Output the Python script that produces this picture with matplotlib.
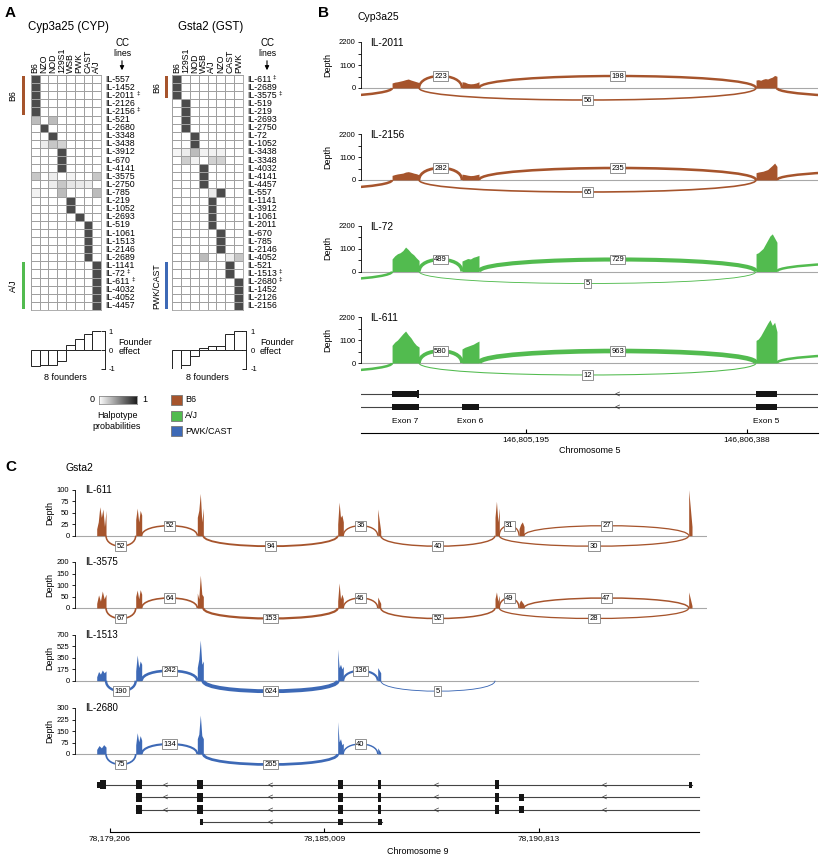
import numpy as np
import matplotlib
matplotlib.use('Agg')
import matplotlib.pyplot as plt
from matplotlib.path import Path
from matplotlib.patches import PathPatch, Rectangle
from matplotlib.colors import LinearSegmentedColormap
import matplotlib.ticker as mticker

plt.rcParams['font.family'] = ['Liberation Sans', 'DejaVu Sans']

# ======================= DATA =======================
# ---- Panel A : haplotype probabilities ----
cyp_founders = ['B6', 'NZO', 'NOD', '129S1', 'WSB', 'PWK', 'CAST', 'A/J']
cyp_lines = ['IL-557', 'IL-1452', 'IL-2011', 'IL-2126', 'IL-2156', 'IL-521', 'IL-2680',
             'IL-3348', 'IL-3438', 'IL-3912', 'IL-670', 'IL-4141', 'IL-3575', 'IL-2750',
             'IL-785', 'IL-219', 'IL-1052', 'IL-2693', 'IL-519', 'IL-1061', 'IL-1513',
             'IL-2146', 'IL-2689', 'IL-1141', 'IL-72', 'IL-611', 'IL-4032', 'IL-4052', 'IL-4457']
cyp_probs = [
    [.8, 0, 0, 0, 0, 0, 0, 0],
    [.8, 0, 0, 0, 0, 0, 0, 0],
    [.8, 0, 0, 0, 0, 0, 0, 0],
    [.8, 0, 0, 0, 0, 0, 0, 0],
    [.8, 0, 0, 0, 0, 0, 0, 0],
    [.3, 0, .3, 0, 0, 0, 0, 0],
    [0, .8, 0, 0, 0, 0, 0, 0],
    [0, 0, .8, 0, 0, 0, 0, 0],
    [0, .08, .25, .2, 0, 0, 0, 0],
    [0, 0, 0, .8, 0, 0, 0, 0],
    [0, 0, 0, .8, 0, 0, 0, 0],
    [0, 0, 0, .8, 0, 0, 0, 0],
    [.25, 0, .08, 0, .05, 0, 0, .25],
    [0, 0, .08, .25, .12, .1, .08, 0],
    [.06, 0, 0, .3, 0, 0, 0, .3],
    [0, 0, 0, 0, .8, 0, 0, 0],
    [0, 0, 0, 0, .8, 0, 0, 0],
    [0, 0, 0, 0, 0, .8, 0, 0],
    [0, 0, 0, 0, 0, 0, .8, 0],
    [0, 0, 0, 0, 0, 0, .8, 0],
    [0, 0, 0, 0, 0, 0, .8, 0],
    [0, 0, 0, 0, 0, 0, .8, 0],
    [0, 0, 0, 0, 0, 0, .8, 0],
    [0, 0, 0, 0, 0, 0, 0, .8],
    [0, 0, 0, 0, 0, 0, 0, .8],
    [0, 0, 0, 0, 0, 0, 0, .8],
    [0, 0, 0, 0, 0, 0, 0, .8],
    [0, 0, 0, 0, 0, 0, 0, .8],
    [0, 0, 0, 0, 0, 0, 0, .8],
]
cyp_dagger = ['IL-2011', 'IL-2156', 'IL-72', 'IL-611']
cyp_groups = [('B6', 'IL-557', 'IL-2156'), ('A/J', 'IL-1141', 'IL-4457')]
cyp_effect = [-0.82, -0.77, -0.77, -0.6, 0.3, 0.6, 0.88, 1.0]

gst_founders = ['B6', '129S1', 'NOD', 'WSB', 'A/J', 'NZO', 'CAST', 'PWK']
gst_lines = ['IL-611', 'IL-2689', 'IL-3575', 'IL-519', 'IL-219', 'IL-2693', 'IL-2750',
             'IL-72', 'IL-1052', 'IL-3438', 'IL-3348', 'IL-4032', 'IL-4141', 'IL-4457',
             'IL-557', 'IL-1141', 'IL-3912', 'IL-1061', 'IL-2011', 'IL-670', 'IL-785',
             'IL-2146', 'IL-4052', 'IL-521', 'IL-1513', 'IL-2680', 'IL-1452', 'IL-2126', 'IL-2156']
gst_probs = [
    [.8, 0, 0, 0, 0, 0, 0, 0],
    [.8, 0, 0, 0, 0, 0, 0, 0],
    [.8, 0, 0, 0, 0, 0, 0, 0],
    [0, .8, 0, 0, 0, 0, 0, 0],
    [0, .8, 0, 0, 0, 0, 0, 0],
    [0, .8, 0, 0, 0, 0, 0, 0],
    [0, .8, 0, 0, 0, 0, 0, 0],
    [0, 0, .8, 0, 0, 0, 0, 0],
    [0, 0, .8, 0, 0, 0, 0, 0],
    [.04, .08, .3, .06, .06, .06, 0, 0],
    [0, .22, .06, 0, .2, .2, 0, 0],
    [0, 0, 0, .8, 0, 0, 0, 0],
    [0, 0, 0, .8, 0, 0, 0, 0],
    [0, 0, 0, .8, 0, 0, 0, 0],
    [0, 0, 0, 0, .1, .8, 0, 0],
    [0, 0, 0, 0, .8, 0, 0, 0],
    [0, 0, 0, 0, .8, 0, 0, 0],
    [0, 0, 0, 0, .8, 0, 0, 0],
    [0, 0, 0, 0, .8, 0, 0, 0],
    [0, 0, 0, 0, 0, .8, 0, 0],
    [0, 0, 0, 0, 0, .8, 0, 0],
    [0, 0, 0, 0, 0, .8, 0, 0],
    [0, 0, 0, .3, 0, 0, .08, .25],
    [0, 0, 0, 0, 0, 0, .8, 0],
    [0, 0, 0, 0, 0, 0, .8, 0],
    [0, 0, 0, 0, 0, 0, 0, .8],
    [0, 0, 0, 0, 0, 0, 0, .8],
    [0, 0, 0, 0, 0, 0, 0, .8],
    [0, 0, 0, 0, 0, 0, 0, .8],
]
gst_dagger = ['IL-611', 'IL-3575', 'IL-1513', 'IL-2680']
gst_groups = [('B6', 'IL-611', 'IL-3575'), ('PWK/CAST', 'IL-521', 'IL-2156')]
gst_effect = [-1.0, -0.78, -0.33, 0.14, 0.2, 0.2, 0.88, 1.0]

effect_ticks = [-1, 0, 1]

group_names = ['B6', 'A/J', 'PWK/CAST']
group_colors = ['#a6542c', '#52bb4f', '#3d69b6']

# ---- Panel B : Cyp3a25 sashimi ----
b_tracks = ['IL-2011', 'IL-2156', 'IL-72', 'IL-611']
b_track_group = ['B6', 'B6', 'A/J', 'A/J']
b_view = (146804303, 146806774)
b_exon_names = ['Exon 7', 'Exon 6', 'Exon 5']
b_exon_start = [146804471, 146804849, 146806439]
b_exon_end = [146804617, 146804941, 146806552]
b_cov = {
    'IL-2011': [[240, 280, 300, 330, 360, 400, 430, 380, 340, 300, 260],
                [300, 280, 220, 200, 210, 240, 300],
                [380, 400, 370, 420, 450, 430, 480, 520, 600, 560]],
    'IL-2156': [[220, 260, 290, 310, 330, 380, 400, 370, 330, 300, 250],
                [280, 260, 230, 210, 220, 250, 280],
                [350, 380, 400, 420, 460, 500, 600, 700, 810, 650]],
    'IL-72': [[600, 750, 850, 900, 1000, 1170, 1050, 900, 800, 650, 525],
              [500, 560, 620, 600, 680, 720, 770],
              [850, 900, 1000, 1100, 1300, 1500, 1700, 1800, 1600, 1400]],
    'IL-611': [[845, 1000, 1100, 1250, 1400, 1530, 1350, 1200, 1000, 850, 765],
               [670, 750, 800, 850, 900, 980, 1050],
               [1080, 1150, 1300, 1500, 1700, 1900, 2070, 1800, 1950, 1500]],
}
b_junctions = {  # (from exon, to exon, count, side)
    'IL-2011': [(0, 1, 223, 'up'), (1, 2, 198, 'up'), (0, 2, 56, 'down')],
    'IL-2156': [(0, 1, 282, 'up'), (1, 2, 235, 'up'), (0, 2, 65, 'down')],
    'IL-72': [(0, 1, 489, 'up'), (1, 2, 729, 'up'), (0, 2, 5, 'down')],
    'IL-611': [(0, 1, 580, 'up'), (1, 2, 963, 'up'), (0, 2, 12, 'down')],
}
b_right_side = ['down', 'up', 'up', 'up']
b_depth_ticks = [0, 1100, 2200]
b_depth_minor = [550, 1650]
b_transcripts = [
    [(146804471, 146804606, 'n'), (146804606, 146804617, 't'), (146806439, 146806552, 'n')],
    [(146804471, 146804617, 'n'), (146804849, 146804941, 'n'), (146806439, 146806552, 'n')],
]
b_arrows = [146805687]
b_ticks = [146805195, 146806388]

# ---- Panel C : Gsta2 sashimi ----
c_tracks = ['IL-611', 'IL-3575', 'IL-1513', 'IL-2680']
c_track_group = ['B6', 'B6', 'PWK/CAST', 'PWK/CAST']
c_depth_max = [100, 200, 700, 300]
c_view = (78178258, 78195373)
c_track_end = [78195346, 78195346, 78195130, 78195156]
c_exon_start = [78178846, 78179902, 78181570, 78185372, 78186455, 78189632, 78190282, 78194877]
c_exon_end = [78179098, 78180064, 78181733, 78185524, 78186537, 78189748, 78190417, 78194967]
c_cov = {
    'IL-611': [[15, 30, 63, 40, 58, 20, 55], [35, 60, 30, 55, 45], [40, 55, 92, 30, 60],
               [25, 73, 40, 45, 30], [58, 10], [40, 75, 30, 60], [15, 25, 30, 20], [100, 20]],
    'IL-3575': [[20, 57, 30, 74, 40, 60], [50, 78, 40, 80, 60], [65, 40, 143, 60, 50],
                [30, 109, 40, 60, 40], [48, 20], [40, 70, 30, 55], [20, 35, 25, 15], [70, 10]],
    'IL-1513': [[60, 140, 100, 163, 120, 150], [150, 391, 200, 300, 250], [200, 330, 620, 250, 300],
                [480, 200, 250, 180, 220], [200, 120], [], [], []],
    'IL-2680': [[30, 55, 40, 61, 45], [60, 139, 80, 120, 90], [100, 130, 254, 120, 100],
                [211, 80, 100, 60, 70], [40, 10], [], [], []],
}
c_junctions = {
    'IL-611': [(0, 1, 52, 'down'), (1, 2, 52, 'up'), (2, 3, 94, 'down'), (3, 4, 36, 'up'),
               (4, 5, 40, 'down'), (5, 6, 31, 'up'), (6, 7, 27, 'up'), (5, 7, 30, 'down')],
    'IL-3575': [(0, 1, 67, 'down'), (1, 2, 64, 'up'), (2, 3, 153, 'down'), (3, 4, 46, 'up'),
                (4, 5, 52, 'down'), (5, 6, 49, 'up'), (6, 7, 47, 'up'), (5, 7, 28, 'down')],
    'IL-1513': [(0, 1, 190, 'down'), (1, 2, 242, 'up'), (2, 3, 624, 'down'), (3, 4, 136, 'up'),
                (4, 5, 5, 'down')],
    'IL-2680': [(0, 1, 75, 'down'), (1, 2, 134, 'up'), (2, 3, 265, 'down'), (3, 4, 40, 'up')],
}
c_transcripts = [
    [(78178846, 78178936, 'u'), (78178936, 78179098, 'n'), (78179902, 78180064, 'n'),
     (78181570, 78181733, 'n'), (78185372, 78185524, 'n'), (78186455, 78186537, 'n'),
     (78189632, 78189748, 'n'), (78194877, 78194967, 's')],
    [(78179902, 78180064, 'n'), (78181570, 78181733, 'n'), (78185372, 78185524, 'n'),
     (78186455, 78186537, 'n'), (78189632, 78189748, 'n'), (78190282, 78190417, 'm')],
    [(78179902, 78180064, 'n'), (78181570, 78181733, 'n'), (78185372, 78185524, 'n'),
     (78186455, 78186537, 'n'), (78189632, 78189748, 'n'), (78190282, 78190417, 'm')],
    [(78181643, 78181733, 's'), (78185372, 78185524, 's'), (78186455, 78186580, 's')],
]
c_transcript_span = [(78178846, 78194967), (78179902, 78195156), (78179902, 78195156),
                     (78181643, 78186580)]
c_arrows = [[78180695, 78183539, 78188034, 78192584], [78180695, 78183539, 78188034, 78192584],
            [78180695, 78183539, 78188034, 78192584], [78183539]]
c_ticks = [78179206, 78185009, 78190813]
c_axis_span = (78179206, 78195156)

# ======================= DRAWING =======================
W, H = 822, 857
fig = plt.figure(figsize=(W / 100, H / 100), dpi=100)
color_of = dict(zip(group_names, group_colors))
cmap = LinearSegmentedColormap.from_list('hp', ['#ffffff', '#1e1e1e'])
GRID = '#a0a0a0'


def axpx(x0, y0, w, h):
    return fig.add_axes([x0 / W, 1 - (y0 + h) / H, w / W, h / H])


def ftext(x, y, s, **kw):
    kw.setdefault('ha', 'left')
    kw.setdefault('va', 'center')
    return fig.text(x / W, 1 - y / H, s, **kw)


def frect(x, y, w, h, **kw):
    fig.add_artist(Rectangle((x / W, 1 - (y + h) / H), w / W, h / H,
                             transform=fig.transFigure, **kw))


def farrow(x, y0, y1):
    fig.add_artist(matplotlib.patches.FancyArrowPatch(
        (x / W, 1 - y0 / H), (x / W, 1 - y1 / H), transform=fig.transFigure,
        arrowstyle='-|>', mutation_scale=6, lw=0.8, color='black'))


# ---------- Panel A ----------
ROW_TOP, ROW_BOT = 75, 310
GRID_W = 70.4


def haplo_panel(x0, title, founders, lines, probs, daggers, groups, effect,
                bar_x, glabel_x, cc_x):
    n = len(lines)
    rowh = (ROW_BOT - ROW_TOP) / n
    ax = axpx(x0, ROW_TOP, GRID_W, ROW_BOT - ROW_TOP)
    ax.pcolormesh(np.array(probs), cmap=cmap, vmin=0, vmax=1,
                  edgecolors=GRID, linewidth=0.6)
    ax.set_xlim(0, len(founders))
    ax.set_ylim(n, 0)
    ax.xaxis.tick_top()
    ax.set_xticks(np.arange(len(founders)) + 0.5)
    ax.set_xticklabels(founders, rotation=90, fontsize=6.3)
    ax.tick_params(axis='x', length=0, pad=1.5)
    ax.set_yticks([])
    for s in ax.spines.values():
        s.set_edgecolor(GRID)
        s.set_linewidth(0.6)
    for i, nm in enumerate(lines):
        t = ax.text(len(founders) + 0.5, i + 0.5, nm, fontsize=6.3, va='center', ha='left')
        if nm in daggers:
            ax.annotate('‡', xy=(1, 0.75), xycoords=t, xytext=(1.0, 0),
                        textcoords='offset points', fontsize=4.5, va='center', ha='left')
    ftext(x0 + GRID_W / 2 + 3, 27, title, ha='center', fontsize=8.3)
    ftext(cc_x, 43, 'CC', ha='center', fontsize=7)
    ftext(cc_x, 53, 'lines', ha='center', fontsize=6.3)
    farrow(cc_x, 58, 73)
    for gname, first, last in groups:
        i0, i1 = lines.index(first), lines.index(last)
        y0 = ROW_TOP + i0 * rowh + 1
        y1 = ROW_TOP + (i1 + 1) * rowh - 1
        frect(bar_x, y0, 3, y1 - y0, fc=color_of[gname], ec='none')
        ftext(glabel_x, (y0 + y1) / 2, gname, rotation=90, ha='center', fontsize=6.3)
    # founder effect
    fx = axpx(x0, 331.5, GRID_W, 37.5)
    fx.bar(np.arange(len(effect)) + 0.5, effect, width=1.0, facecolor='white',
           edgecolor='#222222', linewidth=0.7)
    fx.set_xlim(0, len(effect))
    fx.set_ylim(-1, 1)
    fx.yaxis.tick_right()
    fx.set_yticks(effect_ticks)
    fx.set_yticklabels([str(v) for v in effect_ticks])
    fx.tick_params(axis='y', direction='in', length=3, width=0.6, labelsize=5.5, pad=3)
    fx.set_xticks([])
    for s in ['top', 'bottom', 'left']:
        fx.spines[s].set_visible(False)
    fx.spines['right'].set_position(('outward', 2.5))
    fx.spines['right'].set_linewidth(0.6)
    fx.patch.set_alpha(0)
    ftext(x0 + 87.5, 347, 'Founder\neffect', fontsize=6.5, linespacing=1.1)
    ftext(x0 + 35, 377, '8 founders', ha='center', fontsize=6.5)


ftext(5, 13, 'A', fontsize=11, fontweight='bold')
haplo_panel(30.7, 'Cyp3a25 (CYP)', cyp_founders, cyp_lines, cyp_probs, cyp_dagger,
            cyp_groups, cyp_effect, bar_x=21.5, glabel_x=13, cc_x=122)
haplo_panel(172.3, 'Gsta2 (GST)', gst_founders, gst_lines, gst_probs, gst_dagger,
            gst_groups, gst_effect, bar_x=164.5, glabel_x=157, cc_x=267)

# colour bar
cb = axpx(99.3, 395.7, 37.4, 8.3)
cb.imshow(np.linspace(0, 1, 256)[None, :], aspect='auto', cmap=cmap, extent=[0, 1, 0, 1])
cb.set_xticks([])
cb.set_yticks([])
for s in cb.spines.values():
    s.set_linewidth(0.5)
    s.set_edgecolor('#777777')
ftext(90, 400, '0', fontsize=6.5)
ftext(142, 400, '1', fontsize=6.5)
ftext(117, 421, 'Halpotype\nprobabilities', ha='center', fontsize=6.5, linespacing=1.15)

# legend
for gname, yy in zip(group_names, [400, 415.5, 431]):
    frect(171, yy - 5, 11, 10, fc=color_of[gname], ec='#777777', lw=0.6)
    ftext(185, yy, gname, fontsize=6.5)


# ---------- sashimi helpers ----------
def arc_lw(count):
    return (0.6 + 0.13 * np.sqrt(count)) * 0.72


def draw_arc(ax, x1, x2, h, lw, color, label=None, fs=5.5):
    k = h / 0.75
    path = Path([(x1, 0), (x1, k), (x2, k), (x2, 0)],
                [Path.MOVETO, Path.CURVE4, Path.CURVE4, Path.CURVE4])
    ax.add_patch(PathPatch(path, fc='none', ec=color, lw=lw, capstyle='butt', zorder=3))
    if label is not None:
        ax.text((x1 + x2) / 2, h, str(label), ha='center', va='center', fontsize=fs, zorder=6,
                bbox=dict(boxstyle='square,pad=0.18', fc='white', ec='#808080', lw=0.6))


def track_axes(x_left, x_right, base, view, ymax, ticks, minor=None):
    upp = ymax / 46.0
    ax = axpx(x_left, base - 50, x_right - x_left, 64)
    ax.set_xlim(view)
    ax.set_ylim(-14 * upp, 50 * upp)
    ax.patch.set_alpha(0)
    for s in ['top', 'right', 'bottom']:
        ax.spines[s].set_visible(False)
    ax.spines['left'].set_bounds(0, ymax)
    ax.spines['left'].set_linewidth(0.6)
    ax.set_xticks([])
    ax.set_yticks(ticks)
    ax.set_yticklabels([str(t) for t in ticks])
    if minor is not None:
        ax.set_yticks(minor, minor=True)
    ax.tick_params(axis='y', which='both', direction='out', length=2.5, width=0.6,
                   labelsize=5.5, pad=1.5)
    return ax, upp


def draw_cov(ax, starts, ends, covs, color):
    for s, e, vals in zip(starts, ends, covs):
        if len(vals) == 0:
            continue
        xs = np.linspace(s, e, len(vals))
        ax.fill_between(xs, 0, vals, color=color, lw=0, zorder=2)


# ---------- Panel B ----------
ftext(318, 13, 'B', fontsize=11, fontweight='bold')
ftext(357, 17, 'Cyp3a25', fontsize=7.5)
b_bases = [88, 180, 271.5, 363]
for k, name in enumerate(b_tracks):
    base = b_bases[k]
    col = color_of[b_track_group[k]]
    ax, upp = track_axes(361, 818, base, b_view, b_depth_ticks[-1], b_depth_ticks, b_depth_minor)
    ax.plot(b_view, [0, 0], color='#a8a8a8', lw=0.8, zorder=1)
    draw_cov(ax, b_exon_start, b_exon_end, b_cov[name], col)
    for (i, j, c, side) in b_junctions[name]:
        h = (12 if side == 'up' else -12) * upp
        draw_arc(ax, b_exon_end[i], b_exon_start[j], h, arc_lw(c), col, c)
    # junctions leaving the window
    draw_arc(ax, b_view[0] - 1500, b_exon_start[0], -11 * upp, 1.8, col)
    hr = (10 if b_right_side[k] == 'up' else -10) * upp
    draw_arc(ax, b_exon_end[-1], b_view[1] + 1500, hr, 1.8, col)
    ftext(370, base - 45, name, fontsize=7.3)
    ftext(328, base - 23, 'Depth', rotation=90, ha='center', fontsize=6.5)

exon_h = {'n': 0.42, 't': 0.62, 'u': 0.45, 's': 0.45, 'm': 0.55}
gb = axpx(361, 385, 457, 48)
gb.set_xlim(b_view)
gb.set_ylim(3.0, -0.69)
gb.patch.set_alpha(0)
for r, exons in enumerate(b_transcripts):
    gb.plot(b_view, [r, r], color='#444444', lw=0.8, zorder=1)
    for (s, e, kind) in exons:
        hh = exon_h[kind]
        gb.add_patch(Rectangle((s, r - hh / 2), e - s, hh, fc='#151515', ec='none', zorder=2))
    for a in b_arrows:
        gb.text(a, r, '<', ha='center', va='center', fontsize=6.5, color='#333333')
for nm, s, e in zip(b_exon_names, b_exon_start, b_exon_end):
    gb.text((s + e) / 2, 2.13, nm, ha='center', va='center', fontsize=6)
for s in ['top', 'right', 'left']:
    gb.spines[s].set_visible(False)
gb.spines['bottom'].set_linewidth(0.8)
gb.set_yticks([])
gb.set_xticks(b_ticks)
gb.xaxis.set_major_formatter(mticker.FuncFormatter(lambda v, p: f'{int(v):,}'))
gb.tick_params(axis='x', direction='in', length=3, width=0.8, labelsize=6, pad=2.5)
gb.set_xlabel('Chromosome 5', fontsize=6.5, labelpad=1.5)

# ---------- Panel C ----------
ftext(5, 467, 'C', fontsize=11, fontweight='bold')
ftext(65, 468, 'Gsta2', fontsize=7.5)
c_bases = [535.7, 608, 680.7, 754]
for k, name in enumerate(c_tracks):
    base = c_bases[k]
    col = color_of[c_track_group[k]]
    ymax = c_depth_max[k]
    ticks = [int(v) for v in np.linspace(0, ymax, 5)]
    ax, upp = track_axes(75, 707, base, c_view, ymax, ticks)
    ax.plot([c_view[0], c_track_end[k]], [0, 0], color='#a8a8a8', lw=0.8, zorder=1)
    draw_cov(ax, c_exon_start, c_exon_end, c_cov[name], col)
    for (i, j, c, side) in c_junctions[name]:
        h = (10 if side == 'up' else -10.5) * upp
        draw_arc(ax, c_exon_end[i], c_exon_start[j], h, arc_lw(c), col, c)
    ftext(85, base - 46, name, fontsize=7)
    ftext(50, base - 23, 'Depth', rotation=90, ha='center', fontsize=6.5)

gc = axpx(75, 775, 632, 57)
gc.set_xlim(c_view)
gc.set_ylim(3.78, -0.78)
gc.patch.set_alpha(0)
exon_hc = {'n': 0.72, 'u': 0.45, 's': 0.45, 'm': 0.55}
for r, exons in enumerate(c_transcripts):
    gc.plot(c_transcript_span[r], [r, r], color='#444444', lw=0.8, zorder=1)
    for (s, e, kind) in exons:
        hh = exon_hc[kind]
        gc.add_patch(Rectangle((s, r - hh / 2), e - s, hh, fc='#151515', ec='none', zorder=2))
    for a in c_arrows[r]:
        gc.text(a, r, '<', ha='center', va='center', fontsize=6.5, color='#333333')
for s in ['top', 'right', 'left']:
    gc.spines[s].set_visible(False)
gc.spines['bottom'].set_bounds(*c_axis_span)
gc.spines['bottom'].set_linewidth(0.8)
gc.set_yticks([])
gc.set_xticks(c_ticks)
gc.xaxis.set_major_formatter(mticker.FuncFormatter(lambda v, p: f'{int(v):,}'))
gc.tick_params(axis='x', direction='in', length=3, width=0.8, labelsize=6, pad=2.5)
ftext(418, 851.5, 'Chromosome 9', ha='center', fontsize=6.5)

fig.savefig('out.png', dpi=100)
